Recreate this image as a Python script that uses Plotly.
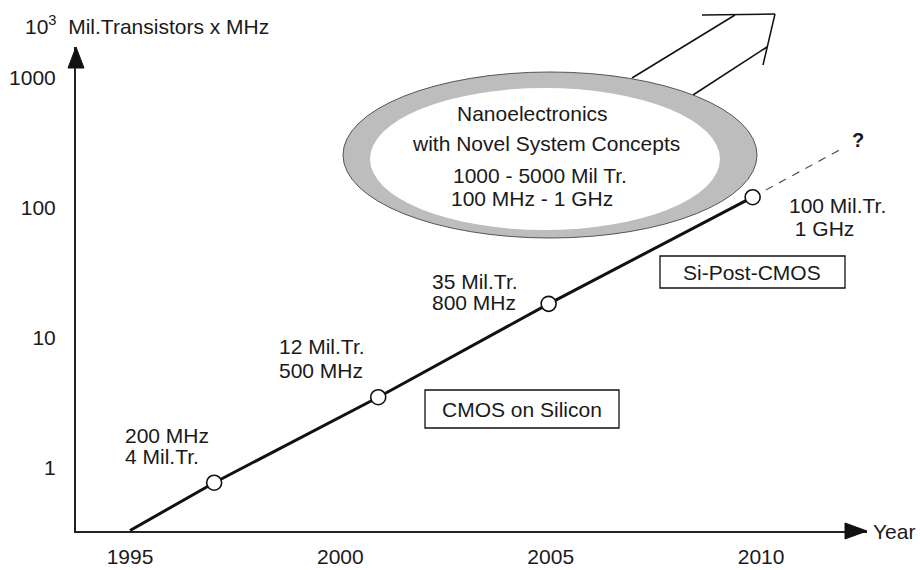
import plotly.graph_objects as go

# ---------------- data ----------------
years = [1995.0, 1997.0, 2000.9, 2004.95, 2009.8]          # trend line vertices
values = [0.33, 0.77, 3.5, 18.3, 121.0]                      # 10^3 Mil.Transistors x MHz
milestone_years = [1997.0, 2000.9, 2004.95, 2009.8]
milestone_values = [0.77, 3.5, 18.3, 121.0]
future_years = [2009.8, 2011.95]
future_values = [121.0, 289.0]

x_tickvals = [1995, 2000, 2005, 2010]
x_ticktext = ["1995", "2000", "2005", "2010"]
y_tickvals = [1, 10, 100, 1000]
y_ticktext = ["1", "10", "100", "1000"]

milestone_labels = [
    ["200 MHz", "4 Mil.Tr."],
    ["12 Mil.Tr.", "500 MHz"],
    ["35 Mil.Tr.", "800 MHz"],
    ["100 Mil.Tr.", " 1 GHz"],
]
nano_lines = ["Nanoelectronics", "with Novel System Concepts",
              "1000 - 5000 Mil Tr.", "100 MHz - 1 GHz"]
box_labels = ["CMOS on Silicon", "Si-Post-CMOS"]

# ---------------- layout geometry (pixels) ----------------
W, H = 920, 570
L, R, T, B = 76, 867, 47, 531
FONT = "Liberation Sans, Arial, Helvetica, sans-serif"
INK = "#1a1a1a"
FS = 21


def px(x):
    return (x - L) / (R - L)


def py(y):
    return (B - y) / (B - T)


fig = go.Figure()

# dashed future extension
fig.add_trace(go.Scatter(x=future_years, y=future_values, mode="lines",
                         line=dict(color="#555555", width=1.2, dash="8px,7px"),
                         hoverinfo="skip", showlegend=False))
# main trend
fig.add_trace(go.Scatter(x=years, y=values, mode="lines",
                         line=dict(color="#111111", width=3),
                         hoverinfo="skip", showlegend=False))
# milestones
fig.add_trace(go.Scatter(x=milestone_years, y=milestone_values, mode="markers",
                         marker=dict(size=15, color="white",
                                     line=dict(color="#111111", width=1.6)),
                         hoverinfo="skip", showlegend=False))

shapes = []
# big open arrow
arrow_pts = [((632, 78), (735, 15)), ((702, 15), (775, 14)),
             ((775, 14), (763, 65)), ((693, 95), (767, 47))]
for (x0, y0), (x1, y1) in arrow_pts:
    shapes.append(dict(type="line", xref="paper", yref="paper",
                       x0=px(x0), y0=py(y0), x1=px(x1), y1=py(y1),
                       line=dict(color="#111111", width=1.5)))
# ellipse (grey ring + white inner)
shapes.append(dict(type="circle", xref="paper", yref="paper",
                   x0=px(343), x1=px(757), y0=py(238), y1=py(72),
                   fillcolor="#bdbdbd", line=dict(color="#555555", width=1)))
shapes.append(dict(type="circle", xref="paper", yref="paper",
                   x0=px(370), x1=px(720), y0=py(230), y1=py(88),
                   fillcolor="white", line=dict(width=0)))
# label boxes
boxes = [(425, 390, 619, 428), (660, 256, 845, 288)]
for (x0, y0, x1, y1) in boxes:
    shapes.append(dict(type="rect", xref="paper", yref="paper",
                       x0=px(x0), x1=px(x1), y0=py(y1), y1=py(y0),
                       fillcolor="white", line=dict(color="#111111", width=1.3)))
# axis arrowheads
shapes.append(dict(type="path", xref="paper", yref="paper",
                   path=f"M {px(867)},{py(531)} L {px(845)},{py(523)} L {px(845)},{py(539)} Z",
                   fillcolor="#111111", line=dict(color="#111111", width=1)))
shapes.append(dict(type="path", xref="paper", yref="paper",
                   path=f"M {px(76)},{py(47)} L {px(68)},{py(68)} L {px(84)},{py(68)} Z",
                   fillcolor="#111111", line=dict(color="#111111", width=1)))

ann = []


def text(s, x, y, anchor="left", size=FS, bold=False):
    ann.append(dict(text=f"<b>{s}</b>" if bold else s, xref="paper", yref="paper",
                    x=px(x), y=py(y), xanchor=anchor, yanchor="middle",
                    showarrow=False, font=dict(family=FONT, size=size, color=INK)))


label_pos = [((123, 435), (123, 456)), ((277, 346), (277, 370)),
             ((430, 281), (430, 302)), ((787, 206), (787, 228))]
for lines, pos in zip(milestone_labels, label_pos):
    for s, (x, y) in zip(lines, pos):
        text(s, x, y)

nano_pos = [(532, 113), (546, 143), (540, 175), (532, 198)]
for s, (x, y) in zip(nano_lines, nano_pos):
    text(s, x, y, anchor="center")

text(box_labels[0], 522, 409, anchor="center")
text(box_labels[1], 752, 272, anchor="center")
text("?", 858, 140, anchor="center", size=20, bold=True)
text("10<sup>3</sup>  Mil.Transistors x MHz", 23, 25)
text("Year", 871, 531)

fig.update_layout(
    width=W, height=H,
    margin=dict(l=L, r=W - R, t=T, b=H - B, pad=0, autoexpand=False),
    paper_bgcolor="white", plot_bgcolor="white",
    font=dict(family=FONT, size=FS, color=INK),
    shapes=shapes, annotations=ann, showlegend=False,
    xaxis=dict(range=[1993.716, 2012.518], tickvals=x_tickvals, ticktext=x_ticktext,
               showgrid=False, zeroline=False, showline=True, linecolor="#222222",
               linewidth=2, ticks="outside", ticklen=6, tickcolor="rgba(0,0,0,0)",
               tickfont=dict(size=FS), automargin=False),
    yaxis=dict(type="log", range=[-0.485, 3.238], tickvals=y_tickvals, ticktext=y_ticktext,
               showgrid=False, zeroline=False, showline=True, linecolor="#222222",
               linewidth=2, ticks="outside", ticklen=14, tickcolor="rgba(0,0,0,0)",
               tickfont=dict(size=FS), automargin=False),
)

fig.write_html("out.html", config={"displayModeBar": False},
               post_script="document.body.style.margin='0';document.body.style.overflow='hidden';")
